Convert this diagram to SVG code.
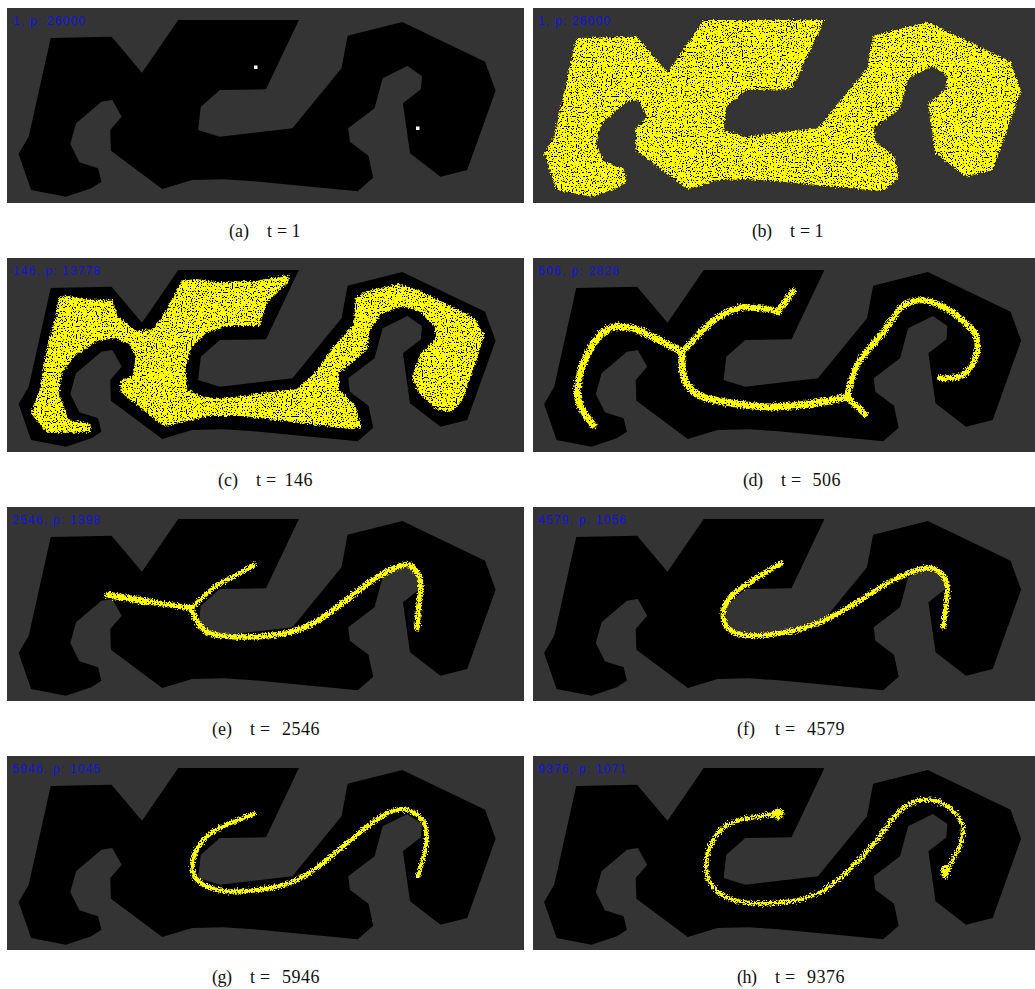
<svg xmlns="http://www.w3.org/2000/svg" width="1035" height="989" viewBox="0 0 1035 989">
<style>
.bg{fill:#343434}
.track{fill:#000}
.dot{fill:#fff}
.info{font-family:"Liberation Sans",Arial,sans-serif;font-size:12px;fill:#1212e6}
.cap{font-family:"Liberation Serif","Times New Roman",serif;font-size:18px;fill:#111}
.s{fill:none;stroke:#ff0;stroke-linecap:round;stroke-linejoin:round}
</style>
<defs>
<polygon id="track" class="track" points="50.7,38 111.6,36.7 142,72.7 178.2,20 298.9,20 266,89.3 219.8,90 200.8,106.7 198.1,130 219.8,136.7 292.4,128.3 341.5,68.3 347.6,35.7 402.3,22 485.1,61.7 495.6,90.7 467.2,170 440.5,176.7 410,153.3 402.9,103.3 420.9,89.3 421.9,76 407.4,66 382.7,78.3 374.5,108.3 348.2,128.3 349.9,141.7 368.5,155.7 373.2,177.7 357.7,191.3 250.2,181 223.1,179.3 192,180 162.3,189 110.9,150.7 110.2,130 121.7,116.7 112.3,100 101.4,101.7 76.1,123.3 70.3,144 79.4,162.3 98.1,168.3 101.4,181.7 91.3,188.3 65.9,196.7 31.1,190 18.6,154 28.7,136.7"/>
<filter id="swarm" filterUnits="userSpaceOnUse" x="0" y="0" width="1035" height="989" color-interpolation-filters="sRGB">
<feTurbulence type="fractalNoise" baseFrequency=".6" numOctaves="2" seed="3" result="n"/>
<feDisplacementMap in="SourceGraphic" in2="n" scale="5" xChannelSelector="R" yChannelSelector="G" result="d"/>
<feTurbulence type="fractalNoise" baseFrequency=".8" numOctaves="1" seed="11"/>
<feColorMatrix type="matrix" values="0 0 0 0 1 0 0 0 0 1 0 0 0 0 0 40 0 0 0 -15" result="m"/>
<feComposite in="m" in2="d" operator="in"/>
</filter>
<filter id="fuzz" filterUnits="userSpaceOnUse" x="0" y="0" width="1035" height="989" color-interpolation-filters="sRGB">
<feTurbulence type="fractalNoise" baseFrequency=".7" numOctaves="2" seed="5" result="n"/>
<feDisplacementMap in="SourceGraphic" in2="n" scale="6" xChannelSelector="R" yChannelSelector="G" result="d"/>
<feTurbulence type="fractalNoise" baseFrequency=".85" numOctaves="1" seed="21"/>
<feColorMatrix type="matrix" values="0 0 0 0 1 0 0 0 0 1 0 0 0 0 0 40 0 0 0 -13" result="m"/>
<feComposite in="m" in2="d" operator="in"/>
</filter>
<filter id="thin" filterUnits="userSpaceOnUse" x="0" y="0" width="1035" height="989" color-interpolation-filters="sRGB">
<feTurbulence type="fractalNoise" baseFrequency=".7" numOctaves="2" seed="9" result="n"/>
<feDisplacementMap in="SourceGraphic" in2="n" scale="7" xChannelSelector="R" yChannelSelector="G" result="d"/>
<feTurbulence type="fractalNoise" baseFrequency=".85" numOctaves="1" seed="33"/>
<feColorMatrix type="matrix" values="0 0 0 0 1 0 0 0 0 1 0 0 0 0 0 40 0 0 0 -15.5" result="m"/>
<feComposite in="m" in2="d" operator="in"/>
</filter>
</defs>

<rect width="1035" height="989" fill="#fff"/>

<g id="panel-a">
<rect class="bg" x="7" y="8" width="517" height="195"/>
<use href="#track"/>
<rect class="dot" x="254" y="65.5" width="3.5" height="3.5"/>
<rect class="dot" x="416" y="126.5" width="3.5" height="3.5"/>
<text class="info" x="13" y="25" textLength="72" lengthAdjust="spacing">1, p: 26000</text>
<text class="cap" y="236.5"><tspan x="229" textLength="20">(a)</tspan> <tspan x="267 277 291.5">t=1</tspan></text>
</g>

<g id="panel-b">
<rect class="bg" x="533" y="8" width="502" height="195"/>
<use href="#track" x="525.5"/>
<g filter="url(#swarm)"><use href="#track" x="525.5" style="fill:#ff0"/></g>
<rect class="dot" x="778" y="66" width="3" height="3" opacity=".7"/>
<rect class="dot" x="942" y="127" width="3" height="3" opacity=".7"/>
<text class="info" x="538" y="25" textLength="72" lengthAdjust="spacing">1, p: 26000</text>
<text class="cap" y="236.5"><tspan x="752" textLength="20">(b)</tspan> <tspan x="790 800 814.5">t=1</tspan></text>
</g>

<g id="panel-c">
<rect class="bg" x="7" y="258" width="517" height="194"/>
<use href="#track" y="250"/>
<g filter="url(#swarm)"><polygon fill="#ff0" stroke="#ff0" stroke-width="6" stroke-linejoin="round" transform="translate(0 250) scale(.338 .3333)" points="175,145 190,140 260,152 330,152 345,200 400,245 455,240 490,190 540,95 580,90 640,100 760,95 850,78 852,92 790,150 765,225 680,225 610,245 565,290 545,350 552,420 590,440 650,450 780,432 880,420 935,370 990,290 1050,225 1055,145 1090,125 1180,105 1240,125 1300,155 1400,205 1430,255 1400,350 1365,450 1335,483 1290,475 1240,425 1222,380 1245,315 1290,270 1290,230 1240,180 1190,165 1125,190 1090,240 1085,295 1000,370 1000,420 1050,470 1065,530 1040,535 840,510 720,495 620,495 520,518 485,525 440,490 360,425 358,395 395,380 405,320 385,280 340,262 285,270 220,315 180,370 170,430 200,510 265,525 265,545 140,545 95,490 120,420 145,280 170,200"/></g>
<text class="info" x="13" y="275" textLength="87" lengthAdjust="spacing">146, p: 13778</text>
<text class="cap" y="485.5"><tspan x="218" textLength="20">(c)</tspan> <tspan x="256 266 284.5 294 303.5">t=146</tspan></text>
</g>

<g id="panel-d">
<rect class="bg" x="533" y="258" width="502" height="194"/>
<use href="#track" x="525.5" y="250"/>
<g filter="url(#fuzz)">
<path class="s" stroke-width="7" d="M593 425Q578 407 577.5 395Q577 383 581 370Q585 357 593.5 343.5Q602 330 612.5 327.5Q623 325 635 329Q647 333 682 352"/>
<path class="s" stroke-width="6" d="M682 352L703 330Q723 310 743 307L770 309L778 312L785 302L793 291"/>
<path class="s" stroke-width="7" d="M682 352Q681 366 684 378Q689 392 705 398Q740 406 770 407Q810 406 847 397"/>
<path class="s" stroke-width="6" d="M847 397L865 414"/>
<path class="s" stroke-width="6" d="M847 397Q851 378 858 363Q870 347 883 333Q892 320 900 308Q910 300 923 300Q940 303 953 313Q966 322 975 333Q979 345 977 353Q973 368 963 375Q953 379 940 378"/>
</g>
<text class="info" x="538" y="275" textLength="81" lengthAdjust="spacing">506, p: 2828</text>
<text class="cap" y="485.5"><tspan x="743" textLength="20">(d)</tspan> <tspan x="781 791 812.5 822 831.5">t=506</tspan></text>
</g>

<g id="panel-e">
<rect class="bg" x="7" y="507" width="517" height="194"/>
<use href="#track" y="499"/>
<g filter="url(#fuzz)">
<path class="s" stroke-width="6.5" d="M108 595L150 602"/>
<path class="s" stroke-width="5.5" d="M150 602L191 608"/>
<path class="s" stroke-width="4.5" d="M191 608Q198 602 204 596Q218 583 231 578L254 565"/>
<path class="s" stroke-width="5.5" d="M191 608Q198 628 208 632.5Q218 637 244.5 637Q271 637 290.5 632Q310 627 326.5 615Q343 603 359.5 590Q376 577 389.5 570.5Q403 564 407.5 564.5Q412 565 417 572.5Q422 580 420.5 591.5Q419 603 417 628"/>
</g>
<text class="info" x="12" y="524" textLength="88" lengthAdjust="spacing">2546, p: 1398</text>
<text class="cap" y="734.5"><tspan x="212" textLength="20">(e)</tspan> <tspan x="250 260 282 291.5 301 310.5">t=2546</tspan></text>
</g>

<g id="panel-f">
<rect class="bg" x="533" y="507" width="502" height="194"/>
<use href="#track" x="525.5" y="499"/>
<g filter="url(#fuzz)">
<path class="s" stroke-width="5" d="M782 563Q746 583 734.5 593Q723 603 723 615Q723 627 734.5 632.5Q746 638 775.5 634Q805 630 828 618.5Q851 607 871 593.5Q891 580 911 572Q931 564 939.5 572Q948 580 947.5 590Q947 600 943 627"/>
</g>
<text class="info" x="538" y="524" textLength="88" lengthAdjust="spacing">4579, p: 1056</text>
<text class="cap" y="734.5"><tspan x="737" textLength="18">(f)</tspan> <tspan x="775 785 807 816.5 826 835.5">t=4579</tspan></text>
</g>

<g id="panel-g">
<rect class="bg" x="7" y="756" width="517" height="194"/>
<use href="#track" y="748"/>
<rect class="dot" x="416" y="874.5" width="3.5" height="3.5"/>
<g filter="url(#fuzz)">
<path class="s" stroke-width="4.5" d="M254 814Q223 825 212 832.5Q201 840 196 851Q191 862 193 872Q195 882 209 887.5Q223 893 247 891Q271 889 288 883.5Q305 878 326 860.5Q347 843 364 829Q381 815 392.5 811Q404 807 414 812.5Q424 818 426 829Q428 840 424.5 853Q421 867 418 875"/>
</g>
<text class="info" x="12" y="773" textLength="88" lengthAdjust="spacing">5946, p: 1045</text>
<text class="cap" y="983"><tspan x="212" textLength="20">(g)</tspan> <tspan x="250 260 282 291.5 301 310.5">t=5946</tspan></text>
</g>

<g id="panel-h">
<rect class="bg" x="533" y="756" width="502" height="194"/>
<use href="#track" x="525.5" y="748"/>
<g filter="url(#thin)">
<path class="s" stroke-width="4.5" d="M779 814Q742 818 731 823Q720 828 713 840.5Q706 853 706 866.5Q706 880 716 890Q726 900 745 902.5Q765 905 790 901.5Q816 898 833 884Q850 870 864 855Q878 840 889 823.5Q900 807 916 801.5Q932 796 947 806Q963 817 963 830Q963 843 954 858Q946 873 946 873"/>
</g>
<g filter="url(#fuzz)">
<ellipse cx="778" cy="814" rx="5.5" ry="5.5" fill="#ff0"/>
<ellipse cx="945" cy="872" rx="4" ry="7" fill="#ff0"/>
</g>
<text class="info" x="538" y="773" textLength="88" lengthAdjust="spacing">9376, p: 1071</text>
<text class="cap" y="983"><tspan x="737" textLength="20">(h)</tspan> <tspan x="775 785 807 816.5 826 835.5">t=9376</tspan></text>
</g>
</svg>
